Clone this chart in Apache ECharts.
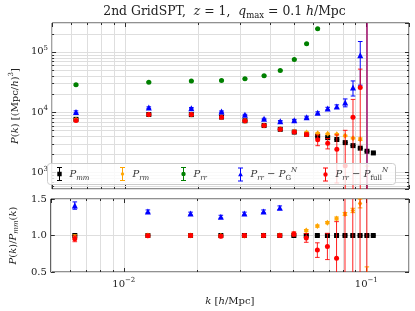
<!DOCTYPE html>
<html><head><meta charset="utf-8">
<script src="https://cdn.jsdelivr.net/npm/echarts@6/dist/echarts.min.js"></script>
<style>html,body{margin:0;padding:0;background:#fff}#c{width:415px;height:311px}</style>
</head><body><div id="c"></div>
<script>
// ---- data ----
const kVals = [0.00628, 0.01257, 0.01885, 0.02513, 0.03142, 0.03770, 0.04398, 0.05027, 0.05655,
               0.06283, 0.06912, 0.07540, 0.08168, 0.08796, 0.09425, 0.10053, 0.10681];
// top panel P(k)
const pMm     = [7600, 9150, 9100, 8300, 7200, 6000, 5200, 4680, 4300, 4000, 3790, 3520, 3130, 2790, 2530, 2250, 2110];
const pMmErr  = [250, 200, 150, 120, 90, 70, 55, 45, 40, 35, 30, 28, 25, 22, 20, 18, 16];
const pRm     = [7500, 9120, 9100, 8250, 7150, 6000, 5250, 4800, 4590, 4490, 4370, 4310, 4050, 3710, 3570, 400, null];
const pRmErr  = [300, 250, 200, 150, 120, 100, 90, 80, 80, 80, 90, 100, 110, 110, 170, 880, null];
const pRr     = [28400, 31400, 32700, 33400, 35600, 40000, 49000, 74600, 136000, 240000, null, null, null, null, null, null, null];
const pRrErr  = [800, 700, 650, 600, 600, 650, 800, 1200, 2000, 3500, null, null, null, null, null, null, null];
const pG      = [10100, 11900, 11650, 10230, 9020, 7740, 7080, 7360, 8260, 9730, 11480, 12400, 14400, 25700, 88000, 200, null];
const pGErr   = [400, 350, 300, 250, 200, 180, 180, 220, 300, 400, 550, 800, 2150, 7200, 60000, 500000, null];
const pFull   = [7260, 9120, 9100, 8260, 7180, 6000, 5220, 4710, 4260, 3480, 3060, 2430, 1300, 8260, 25600, 200, null];
const pFullErr= [300, 250, 200, 160, 130, 110, 100, 100, 250, 700, 600, 1760, 3700, 8000, 26000, 500000, null];
// bottom panel ratios P(k)/P_mm(k)
const rMm     = [1, 1, 1, 1, 1, 1, 1, 1, 1, 1, 1, 1, 1, 1, 1, 1, 1];
const rMmErr  = [0.005, 0.005, 0.005, 0.005, 0.005, 0.005, 0.005, 0.005, 0.005, 0.005, 0.005, 0.005, 0.005, 0.005, 0.005, 0.005, 0.005];
const rRm     = [0.98, 1.0, 1.0, 0.995, 0.995, 1.0, 1.005, 1.024, 1.067, 1.129, 1.176, 1.233, 1.295, 1.343, 1.438, 0.30, null];
const rRmErr  = [0.03, 0.02, 0.02, 0.015, 0.015, 0.015, 0.015, 0.015, 0.015, 0.015, 0.015, 0.02, 0.02, 0.03, 0.06, 0.27, null];
const rG      = [1.41, 1.33, 1.30, 1.257, 1.30, 1.33, 1.38, null, null, null, null, null, null, null, null, null, null];
const rGErr   = [0.05, 0.02, 0.02, 0.02, 0.02, 0.02, 0.025, null, null, null, null, null, null, null, null, null, null];
const rFull   = [0.955, 0.995, 1.0, 0.99, 1.0, 1.0, 1.0, 1.02, 0.967, 0.80, 0.85, 0.69, 0.40, 2.96, 10, 0.2, null];
const rFullErr= [0.04, 0.02, 0.02, 0.02, 0.02, 0.02, 0.02, 0.03, 0.06, 0.10, 0.18, 0.5, 1.2, 2.9, 10, 100, null];
// axis ticks
const xMinor = [0.006, 0.007, 0.008, 0.009, 0.02, 0.03, 0.04, 0.05, 0.06, 0.07, 0.08, 0.09];
const yMinorTop = [600, 700, 800, 900, 2000, 3000, 4000, 5000, 6000, 7000, 8000, 9000,
                   20000, 30000, 40000, 50000, 60000, 70000, 80000, 90000, 200000];
// legend entries
const legendNames = ['P_mm', 'P_rm', 'P_rr', 'P_G', 'P_full'];

// ---- styling ----
const FONT = 'DejaVu Serif';
const GRID = '#dedede';
const C = {mm: '#000000', rm: '#ffa500', rr: '#008000', G: '#0000ff', full: '#ff0000'};

function rows(vals, errs) { return kVals.map((k, i) => [k, vals[i], errs[i]]); }

function errItem(color, opacity, cap) {
  return function (params, api) {
    const k = api.value(0), v = api.value(1), e = api.value(2);
    if (isNaN(v) || isNaN(e)) return null;
    const cs = params.coordSys;
    const top = cs.y, bot = cs.y + cs.height;
    const x = api.coord([k, v > 0 ? v : 1])[0];
    const toY = val => (val > 0 ? api.coord([k, val])[1] : bot + 1000);
    const y1 = toY(v + e), y2 = toY(v - e);
    const ch = [];
    const a = Math.max(y1, top), b = Math.min(y2, bot);
    const st = {stroke: color, lineWidth: 1, opacity: opacity};
    if (a < b) ch.push({type: 'line', shape: {x1: x, y1: a, x2: x, y2: b}, style: st});
    [y1, y2].forEach(y => {
      if (y >= top && y <= bot) ch.push({type: 'line', shape: {x1: x - cap, y1: y, x2: x + cap, y2: y}, style: st});
    });
    return {type: 'group', children: ch};
  };
}
function vGrid(yRef) {
  return function (params, api) {
    const cs = params.coordSys;
    const x = Math.round(api.coord([api.value(0), yRef])[0]) + 0.5;
    const t = cs.y, b = cs.y + cs.height;
    return {type: 'group', children: [
      {type: 'line', shape: {x1: x, y1: t, x2: x, y2: b}, style: {stroke: GRID, lineWidth: 1}},
      {type: 'line', shape: {x1: x, y1: t, x2: x, y2: t + 2}, style: {stroke: '#000', lineWidth: 0.8}},
      {type: 'line', shape: {x1: x, y1: b - 2, x2: x, y2: b}, style: {stroke: '#000', lineWidth: 0.8}}
    ]};
  };
}
function hGrid(xRef) {
  return function (params, api) {
    const cs = params.coordSys;
    const y = Math.round(api.coord([xRef, api.value(1)])[1]) + 0.5;
    const l = cs.x, r = cs.x + cs.width;
    return {type: 'group', children: [
      {type: 'line', shape: {x1: l, y1: y, x2: r, y2: y}, style: {stroke: GRID, lineWidth: 1}},
      {type: 'line', shape: {x1: l, y1: y, x2: l + 2, y2: y}, style: {stroke: '#000', lineWidth: 0.8}},
      {type: 'line', shape: {x1: r - 2, y1: y, x2: r, y2: y}, style: {stroke: '#000', lineWidth: 0.8}}
    ]};
  };
}

const rich = {
  i: {fontFamily: FONT, fontStyle: 'italic', fontSize: 10, lineHeight: 14, color: '#222'},
  r: {fontFamily: FONT, fontSize: 10, lineHeight: 14, color: '#222'},
  sub: {fontFamily: FONT, fontStyle: 'italic', fontSize: 7, lineHeight: 8, verticalAlign: 'bottom', color: '#222'},
  subr: {fontFamily: FONT, fontSize: 7, lineHeight: 8, verticalAlign: 'bottom', color: '#222'},
  sup: {fontFamily: FONT, fontStyle: 'italic', fontSize: 7, lineHeight: 8, verticalAlign: 'top', color: '#222'},
  supr: {fontFamily: FONT, fontSize: 7, lineHeight: 8, verticalAlign: 'top', color: '#222'},
  b: {fontFamily: FONT, fontSize: 10, lineHeight: 14, color: '#222'},
  e: {fontFamily: FONT, fontSize: 7, lineHeight: 8, verticalAlign: 'top', color: '#222'}
};
const richL = {
  i: {fontFamily: FONT, fontStyle: 'italic', fontSize: 10, lineHeight: 15, color: '#333'},
  r: {fontFamily: FONT, fontSize: 10, lineHeight: 15, color: '#333'},
  sub: {fontFamily: FONT, fontStyle: 'italic', fontSize: 7, lineHeight: 8, verticalAlign: 'bottom', color: '#333'},
  subr: {fontFamily: FONT, fontSize: 7, lineHeight: 8, verticalAlign: 'bottom', color: '#333'},
  sup: {fontFamily: FONT, fontStyle: 'italic', fontSize: 7, lineHeight: 8, verticalAlign: 'top', color: '#333'}
};
const legendText = {
  'P_mm': '{i|P}{sub|mm}',
  'P_rm': '{i|P}{sub|rm}',
  'P_rr': '{i|P}{sub|rr}',
  'P_G': '{i|P}{sub|rr}{r| \u2212 }{i|P}{subr|G}{sup|N}',
  'P_full': '{i|P}{sub|rr}{r| \u2212 }{i|P}{subr|full}{sup|N}'
};
const mk = {
  sq: 'M2.8 4.8 H7.2 V9.2 H2.8 Z',
  dia: 'M5 4.3 L6.8 7 L5 9.7 L3.2 7 Z',
  circ: 'M7.2 7 A2.2 2.2 0 1 1 2.8 7 A2.2 2.2 0 1 1 7.2 7 Z',
  tri: 'M5 4.6 L7.4 8.8 L2.6 8.8 Z'
};
const legendIcons = [mk.sq, mk.dia, mk.circ, mk.tri, mk.circ];
const legendLeft = [57, 120, 181, 238, 323];

function logLabel(v) {
  const e = Math.round(Math.log10(v));
  return '{b|10}{e|' + (e < 0 ? '\u2212' + (-e) : e) + '}';
}
const tickStyle = {show: true, inside: true, length: 4, lineStyle: {color: '#000', width: 0.8}};
function xAx(grid, pos, labels, name) {
  return {type: 'log', gridIndex: grid, position: pos, min: 0.005, max: 0.15,
    axisLine: {show: false}, axisTick: tickStyle,
    splitLine: {show: pos === 'bottom', lineStyle: {color: GRID, width: 1}},
    axisLabel: {show: labels, formatter: logLabel, margin: 5, rich: rich, showMinLabel: false, showMaxLabel: false},
    name: name || '', nameLocation: 'middle', nameGap: 22, nameTextStyle: {rich: rich}};
}

const option = {
  animation: false,
  backgroundColor: '#fff',
  graphic: [
    {type: 'text', x: 224.5, y: 4, style: {
      text: '{r|2nd GridSPT,  }{i|z}{r| = 1,  }{i|q}{subr|max}{r| = 0.1 }{i|h}{r|/Mpc}',
      align: 'center', verticalAlign: 'top',
      rich: {
        i: {fontFamily: FONT, fontStyle: 'italic', fontSize: 12.4, lineHeight: 16, fill: '#222'},
        r: {fontFamily: FONT, fontSize: 12.4, lineHeight: 16, fill: '#222'},
        subr: {fontFamily: FONT, fontSize: 8.5, lineHeight: 9, verticalAlign: 'bottom', fill: '#222'}
      }}},
    {type: 'rect', zlevel: 1, z: 100, shape: {x: 47.5, y: 163.5, width: 348, height: 21, r: 3},
     style: {fill: 'rgba(255,255,255,0.8)', stroke: '#cccccc', lineWidth: 1}}
  ],
  grid: [
    {left: 40, width: 369, top: 23, height: 166, show: true, borderColor: '#222', borderWidth: 1, backgroundColor: 'transparent'},
    {left: 40, width: 369, top: 199, height: 73, show: true, borderColor: '#222', borderWidth: 1, backgroundColor: 'transparent'}
  ],
  xAxis: [
    xAx(0, 'bottom', false),
    xAx(0, 'top', false),
    xAx(1, 'bottom', true, '{i|k}{r| [}{i|h}{r|/Mpc]}'),
    xAx(1, 'top', false)
  ],
  yAxis: [
    {type: 'log', gridIndex: 0, position: 'left', min: 533, max: 300000,
     axisLine: {show: false}, axisTick: tickStyle, splitLine: {show: true, lineStyle: {color: GRID, width: 1}},
     axisLabel: {formatter: logLabel, margin: 4, rich: rich, showMinLabel: false, showMaxLabel: false},
     name: '{i|P}{r|(}{i|k}{r|) [(Mpc/}{i|h}{r|)}{supr|3}{r|]}', nameLocation: 'middle', nameGap: 24, nameTextStyle: {rich: rich}},
    {type: 'log', gridIndex: 0, position: 'right', min: 533, max: 300000,
     axisLine: {show: false}, axisTick: tickStyle, splitLine: {show: false}, axisLabel: {show: false}},
    {type: 'value', gridIndex: 1, position: 'left', min: 0.5, max: 1.5, interval: 0.5,
     axisLine: {show: false}, axisTick: tickStyle, splitLine: {show: true, lineStyle: {color: GRID, width: 1}},
     axisLabel: {formatter: v => v.toFixed(1), margin: 4, fontFamily: FONT, fontSize: 10, color: '#222'},
     name: '{i|P}{r|(}{i|k}{r|)/}{i|P}{sub|mm}{r|(}{i|k}{r|)}', nameLocation: 'middle', nameGap: 24, nameTextStyle: {rich: rich}},
    {type: 'value', gridIndex: 1, position: 'right', min: 0.5, max: 1.5, interval: 0.5,
     axisLine: {show: false}, axisTick: tickStyle, splitLine: {show: false}, axisLabel: {show: false}}
  ],
  legend: legendNames.map((n, i) => ({
    left: legendLeft[i], top: 167, orient: 'horizontal', itemWidth: 10, itemHeight: 14, padding: 0, zlevel: 1, z: 110,
    data: [{name: n, icon: 'path://M2.5 0 H7.5 V1 H2.5 Z M4.5 0 H5.5 V14 H4.5 Z M2.5 13 H7.5 V14 H2.5 Z ' + legendIcons[i]}],
    formatter: nm => legendText[nm],
    textStyle: {rich: richL}
  })),
  series: []
};

// minor grid lines + minor ticks
option.series.push({type: 'custom', xAxisIndex: 0, yAxisIndex: 0, z: 1, silent: true, renderItem: vGrid(1000),
  data: xMinor.map(v => [v, 1000])});
option.series.push({type: 'custom', xAxisIndex: 0, yAxisIndex: 0, z: 1, silent: true, renderItem: hGrid(0.01),
  data: yMinorTop.map(v => [0.01, v])});
option.series.push({type: 'custom', xAxisIndex: 2, yAxisIndex: 2, z: 1, silent: true, renderItem: vGrid(1),
  data: xMinor.map(v => [v, 1])});

const defs = [
  {name: 'P_mm', color: C.mm, sym: 'rect', size: 5, errOp: 1, top: [pMm, pMmErr], bot: [rMm, rMmErr]},
  {name: 'P_rm', color: C.rm, sym: 'diamond', size: [4.5, 6], errOp: 1, top: [pRm, pRmErr], bot: [rRm, rRmErr]},
  {name: 'P_rr', color: C.rr, sym: 'circle', size: 5, errOp: 1, top: [pRr, pRrErr], bot: null},
  {name: 'P_G', color: C.G, sym: 'triangle', size: 6, errOp: 1, top: [pG, pGErr], bot: [rG, rGErr]},
  {name: 'P_full', color: C.full, sym: 'circle', size: 5, errOp: 0.88, top: [pFull, pFullErr], bot: [rFull, rFullErr]}
];
defs.forEach((d, idx) => {
  [[d.top, 0], [d.bot, 2]].forEach(([arr, ax]) => {
    if (!arr) return;
    const data = rows(arr[0], arr[1]);
    option.series.push({type: 'custom', name: d.name + '_err' + ax, xAxisIndex: ax, yAxisIndex: ax, z: 2 + idx * 2,
      silent: true, renderItem: errItem(d.color, d.errOp, 2.3), encode: {x: 0, y: 1}, data: data});
    option.series.push({type: 'scatter', name: d.name, xAxisIndex: ax, yAxisIndex: ax, z: 3 + idx * 2,
      symbol: d.sym, symbolSize: d.size, itemStyle: {color: d.color, opacity: 1}, clip: true, silent: true,
      data: data.filter(r => r[1] != null).map(r => [r[0], r[1]])});
  });
});

const chart = echarts.init(document.getElementById('c'), null, {renderer: 'canvas', devicePixelRatio: 1});
chart.setOption(option);
</script></body></html>
